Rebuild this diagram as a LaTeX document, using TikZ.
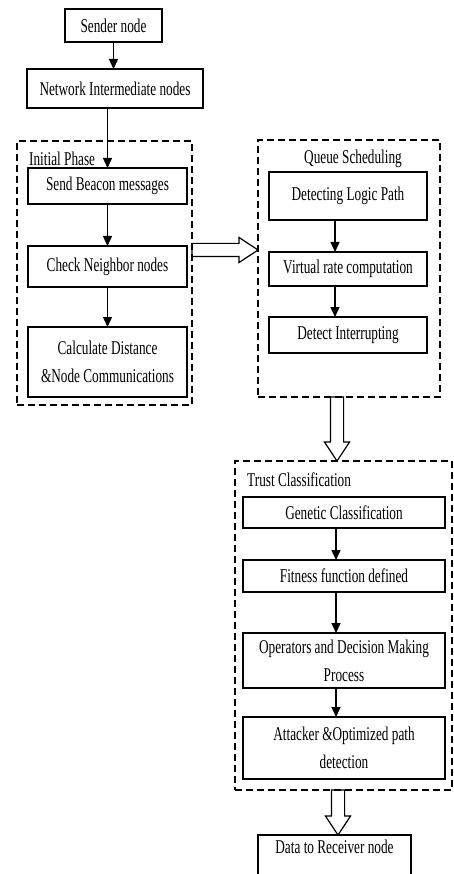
\documentclass[tikz,border=0pt]{standalone}
\usepackage{fontspec}
\setmainfont{Liberation Serif}[FakeStretch=0.68]
\usepackage{tikz}
\usetikzlibrary{positioning, arrows.meta, calc, shapes.arrows}

\tikzset{
  procbox/.style={draw, line width=1.2pt, inner sep=0pt, outer sep=0pt, align=center},
  phasebox/.style={draw, line width=2.4pt, dash pattern=on 7pt off 4pt, inner sep=0pt, outer sep=0pt},
  phaselabel/.style={inner sep=0pt},
  flowline/.style={line width=1.4pt, -{Triangle[width=9pt,length=10pt]}},
  bigarrow/.style={single arrow, draw, line width=1.2pt, inner sep=6pt, outer sep=0pt,
    minimum width=24pt, single arrow head extend=6pt, single arrow tip angle=67, anchor=tail}
}

\begin{document}
\begin{tikzpicture}[x=1pt, y=-1pt, font=\fontsize{19.5}{28}\selectfont]
  \useasboundingbox (0,0) rectangle (454,874);

  % entry of the network
  \node[procbox, minimum width=97pt, minimum height=33pt] (sender) at (113.5,25.5) {Sender node};
  \node[procbox, minimum width=176pt, minimum height=39pt] (network) at (115,88.5) {Network Intermediate nodes};

  % initial phase
  \node[phasebox, minimum width=175pt, minimum height=264pt] (initial) at (104.5,273) {};
  \node[phaselabel, anchor=west] (initlabel) at (29,159) {Initial Phase};
  \node[procbox, minimum width=159pt, minimum height=36pt] (beacon) at (107.5,186) {Send Beacon messages};
  \node[procbox, minimum width=159pt, minimum height=41pt, below=42pt of beacon] (neighbor) {Check Neighbor nodes};
  \node[procbox, minimum width=159pt, minimum height=70pt, below=40pt of neighbor] (distance) {Calculate Distance\\\&Node Communications};

  % queue scheduling
  \node[phasebox, minimum width=182pt, minimum height=257pt] (queue) at (349,268.5) {};
  \node[phaselabel] (queuelabel) at (353,159) {Queue Scheduling};
  \node[procbox, minimum width=158pt, minimum height=48pt] (logic) at (348,196) {Detecting Logic Path};
  \node[procbox, minimum width=158pt, minimum height=34pt, below=32pt of logic] (virtual) {Virtual rate computation};
  \node[procbox, minimum width=158pt, minimum height=36pt, below=31pt of virtual] (interrupt) {Detect Interrupting};

  % trust classification
  \node[phasebox, minimum width=217pt, minimum height=329pt] (trust) at (343.5,625.5) {};
  \node[phaselabel, anchor=west] (trustlabel) at (247,480) {Trust Classification};
  \node[procbox, minimum width=202pt, minimum height=31pt] (genetic) at (344,512.5) {Genetic Classification};
  \node[procbox, minimum width=202pt, minimum height=32pt, below=32pt of genetic] (fitness) {Fitness function defined};
  \node[procbox, minimum width=202pt, minimum height=55pt, below=41pt of fitness] (operators) {Operators and Decision Making\\Process};
  \node[procbox, minimum width=202pt, minimum height=62pt, below=29pt of operators] (attacker) {Attacker \&Optimized path\\detection};

  \node[procbox, minimum width=153pt, inner ysep=5pt, text depth=32pt, anchor=north] (receiver) at (334.5,835) {Data to Receiver node};

  % arrows
  \draw[flowline] (sender.south) -- (sender.south |- network.north);
  \draw[flowline] (beacon.north |- network.south) -- (beacon.north);
  \draw[flowline] (beacon) -- (neighbor);
  \draw[flowline] (neighbor) -- (distance);
  \draw[flowline] ([xshift=-13pt]logic.south) -- ([xshift=-13pt]virtual.north);
  \draw[flowline] ([xshift=-13pt]virtual.south) -- ([xshift=-13pt]interrupt.north);
  \draw[flowline] ([xshift=-8pt]genetic.south) -- ([xshift=-8pt]fitness.north);
  \draw[flowline] ([xshift=-8pt]fitness.south) -- ([xshift=-8pt]operators.north);
  \draw[flowline] ([xshift=-8pt]operators.south) -- ([xshift=-8pt]attacker.north);

  % hollow arrows between phases
  \node[bigarrow, minimum height=66pt] (toqueue) at (initial.east |- 0,250) {};
  \node[bigarrow, minimum height=64pt, shape border rotate=270] (totrust) at (337,397) {};
  \node[bigarrow, minimum height=45pt, shape border rotate=270] (toreceiver) at (338,790) {};
\end{tikzpicture}
\end{document}
